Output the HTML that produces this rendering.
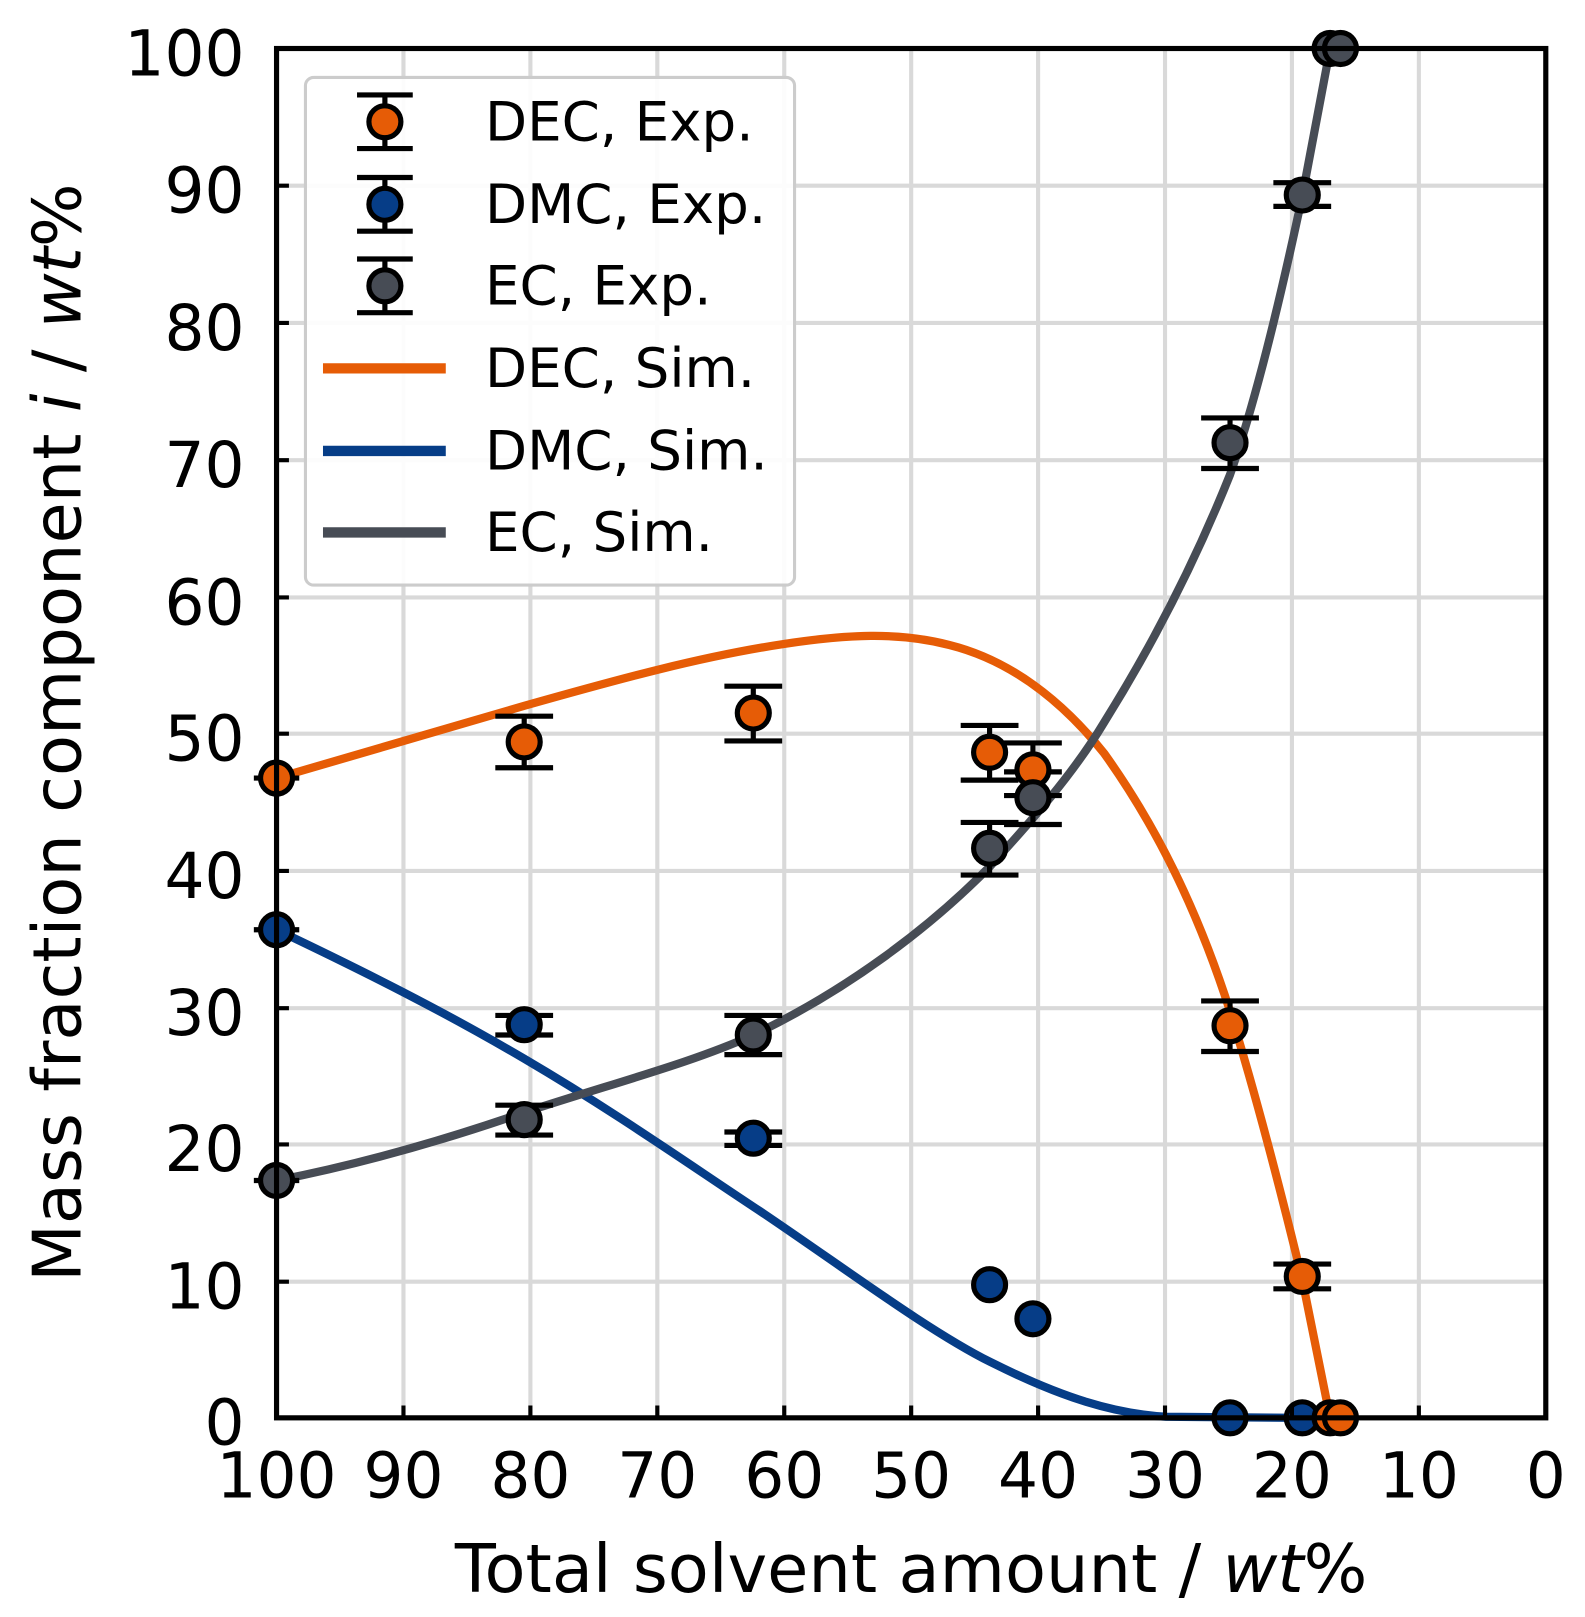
<!DOCTYPE html>
<html><head><meta charset="utf-8"><style>html,body{margin:0;padding:0;background:#fff}svg{display:block}</style></head>
<body>
<svg width="1585" height="1617" viewBox="0 0 1536 1567" xmlns="http://www.w3.org/2000/svg" font-family="'DejaVu Sans','Liberation Sans',sans-serif">
<g stroke="#d9d9d9" stroke-width="4">
<line x1="391" y1="47" x2="391" y2="1374"/><line x1="514" y1="47" x2="514" y2="1374"/><line x1="637" y1="47" x2="637" y2="1374"/><line x1="760" y1="47" x2="760" y2="1374"/><line x1="883" y1="47" x2="883" y2="1374"/><line x1="1006" y1="47" x2="1006" y2="1374"/><line x1="1129" y1="47" x2="1129" y2="1374"/><line x1="1252" y1="47" x2="1252" y2="1374"/><line x1="1375" y1="47" x2="1375" y2="1374"/>
<line x1="268" y1="180" x2="1498" y2="180"/><line x1="268" y1="313" x2="1498" y2="313"/><line x1="268" y1="446" x2="1498" y2="446"/><line x1="268" y1="579" x2="1498" y2="579"/><line x1="268" y1="711" x2="1498" y2="711"/><line x1="268" y1="844" x2="1498" y2="844"/><line x1="268" y1="977" x2="1498" y2="977"/><line x1="268" y1="1109" x2="1498" y2="1109"/><line x1="268" y1="1242" x2="1498" y2="1242"/>
</g>
<g fill="none" stroke-width="8" stroke-linejoin="round">
<path stroke="#e65c06" d="M268,754 C350,730 430,706 508,684 C600,658 680,636 760,624 C820,615 870,612 920,625 C980,640 1030,680 1070,730 C1120,800 1160,880 1192,980 C1220,1070 1245,1170 1262,1240 L1289,1374"/>
<path stroke="#063d87" d="M268,901 C350,940 430,980 508,1026 C600,1080 670,1130 740,1176 C820,1230 900,1290 960,1320 C1030,1355 1080,1370 1130,1373 L1262,1374"/>
<path stroke="#474c55" d="M268,1144 C350,1128 430,1105 508,1078 C600,1048 670,1030 730,1003 C820,960 900,900 959,840 C1000,795 1040,750 1070,700 C1120,620 1160,540 1192,460 C1220,380 1245,270 1262,190 L1289,47"/>
</g>
<g stroke="#000" stroke-width="5">
<path d="M480,694h56M480,744h56M508,694v50 M702,665h56M702,718h56M730,665v53 M931,703h56M931,756h56M959,703v53 M973,720h56M973,771h56M1001,720v51 M1164,970h56M1164,1019h56M1192,970v49 M1234,1225h56M1234,1249h56M1262,1225v24 M246,754h44"/>
<path d="M480,984h56M480,1003h56M508,984v19 M702,1097h56M702,1110h56M246,901h44 M945,1245h28 M987,1278h28"/>
<path d="M480,1071h56M480,1100h56M508,1071v29 M702,984h56M702,1022h56M730,984v38 M931,797h56M931,848h56M959,797v51 M973,748h56M973,799h56M1001,748v51 M1164,405h56M1164,454h56M1192,405v49 M1234,177h56M1234,200h56M1262,177v23 M246,1144h44"/>
</g>
<g stroke="#000" stroke-width="5">
<g fill="#e65c06"><circle cx="268" cy="754" r="15.5"/><circle cx="508" cy="719" r="15.5"/><circle cx="730" cy="691" r="15.5"/><circle cx="959" cy="729" r="15.5"/><circle cx="1001" cy="746" r="15.5"/><circle cx="1192" cy="994" r="15.5"/><circle cx="1262" cy="1237" r="15.5"/></g>
<g fill="#063d87"><circle cx="268" cy="901" r="15.5"/><circle cx="508" cy="993" r="15.5"/><circle cx="730" cy="1103" r="15.5"/><circle cx="959" cy="1245" r="15.5"/><circle cx="1001" cy="1278" r="15.5"/><circle cx="1192" cy="1374" r="15.5"/><circle cx="1262" cy="1374" r="15.5"/></g>
<g fill="#e65c06"><circle cx="1289" cy="1374" r="15.5"/><circle cx="1299" cy="1374" r="15.5"/></g>
<g fill="#474c55"><circle cx="268" cy="1144" r="15.5"/><circle cx="508" cy="1085" r="15.5"/><circle cx="730" cy="1003" r="15.5"/><circle cx="959" cy="822" r="15.5"/><circle cx="1001" cy="773" r="15.5"/><circle cx="1192" cy="429" r="15.5"/><circle cx="1262" cy="189" r="15.5"/><circle cx="1289" cy="47" r="15.5"/><circle cx="1299" cy="47" r="15.5"/></g>
</g>
<rect x="296" y="75" width="474" height="492" rx="8" fill="#fff" fill-opacity="0.9" stroke="#cccccc" stroke-width="3"/>
<g stroke="#000" stroke-width="5">
<path d="M346,92h54M346,144h54M373,92v52 M346,172h54M346,224h54M373,172v52 M346,251h54M346,303h54M373,251v52"/>
<circle cx="373" cy="118" r="15.5" fill="#e65c06"/><circle cx="373" cy="198" r="15.5" fill="#063d87"/><circle cx="373" cy="277" r="15.5" fill="#474c55"/>
</g>
<g stroke-width="10"><line x1="313" y1="357" x2="432" y2="357" stroke="#e65c06"/><line x1="313" y1="437" x2="432" y2="437" stroke="#063d87"/><line x1="313" y1="516" x2="432" y2="516" stroke="#474c55"/></g>
<g font-size="53" fill="#000"><text x="470" y="136">DEC, Exp.</text><text x="470" y="216">DMC, Exp.</text><text x="470" y="295">EC, Exp.</text><text x="470" y="375">DEC, Sim.</text><text x="470" y="455">DMC, Sim.</text><text x="470" y="534">EC, Sim.</text></g>
<rect x="268" y="47" width="1230" height="1327" fill="none" stroke="#000" stroke-width="5"/>
<g stroke="#000" stroke-width="4">
<path d="M391,1374v-12M514,1374v-12M637,1374v-12M760,1374v-12M883,1374v-12M1006,1374v-12M1129,1374v-12M1252,1374v-12M1375,1374v-12"/>
<path d="M268,180h12M268,313h12M268,446h12M268,579h12M268,711h12M268,844h12M268,977h12M268,1109h12M268,1242h12"/>
</g>
<g font-size="61" fill="#000" text-anchor="end">
<text x="237" y="73">100</text><text x="237" y="206">90</text><text x="237" y="339">80</text><text x="237" y="472">70</text><text x="237" y="605">60</text><text x="237" y="737">50</text><text x="237" y="870">40</text><text x="237" y="1003">30</text><text x="237" y="1135">20</text><text x="237" y="1268">10</text><text x="237" y="1400">0</text>
</g>
<g font-size="61" fill="#000" text-anchor="middle">
<text x="268" y="1451">100</text><text x="391" y="1451">90</text><text x="514" y="1451">80</text><text x="637" y="1451">70</text><text x="760" y="1451">60</text><text x="883" y="1451">50</text><text x="1006" y="1451">40</text><text x="1129" y="1451">30</text><text x="1252" y="1451">20</text><text x="1375" y="1451">10</text><text x="1498" y="1451">0</text>
</g>
<text x="883" y="1543" font-size="65" text-anchor="middle">Total solvent amount / <tspan font-style="italic">wt</tspan>%</text>
<text transform="translate(78,710) rotate(-90)" font-size="65" text-anchor="middle">Mass fraction component <tspan font-style="italic">i</tspan> / <tspan font-style="italic">wt</tspan>%</text>
</svg>
</body></html>
